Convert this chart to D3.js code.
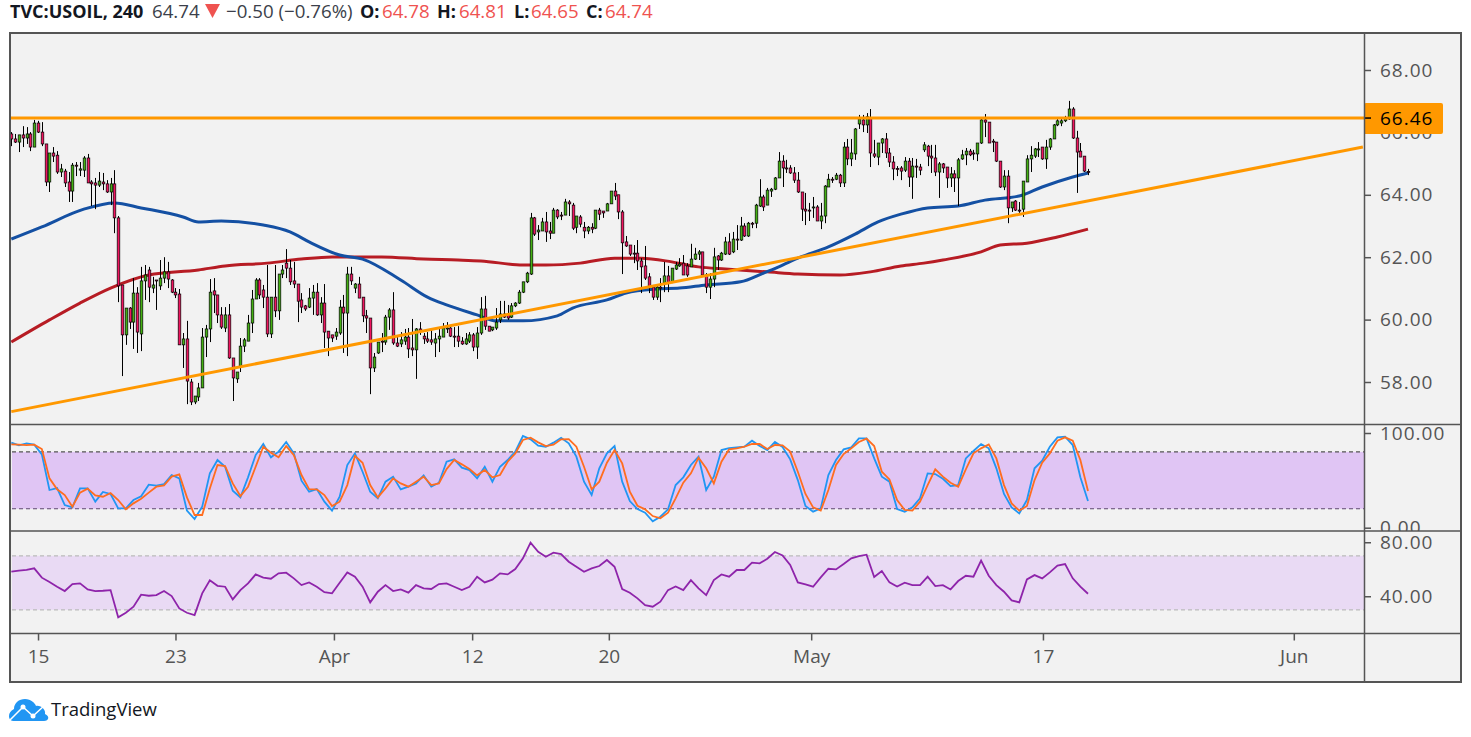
<!DOCTYPE html>
<meta charset="utf-8">
<style>
  html, body { margin: 0; background: #fff; }
  svg { display: block; }
  text { font-family: "Open Sans", sans-serif; }
  .tick text { fill: #555; font-size: 19px; }
  .tick line { stroke: #555; stroke-width: 1.5; }
  .price-axis .tick text { letter-spacing: 1px; }
  .domain { display: none; }
</style>
<script src="https://d3js.org/d3.v7.min.js"></script>
<div id="chart"></div>
<script>
// price candles, left to right
const opens = [
  65.95,65.79,65.69,65.92,65.82,65.95,65.53,66.30,66.01,65.63,
  64.41,65.34,65.27,64.73,64.76,64.41,64.12,64.95,64.79,64.79,
  65.18,64.41,64.38,64.31,64.41,64.35,64.09,64.35,63.26,61.11,
  59.51,60.37,59.92,60.85,59.54,61.24,61.59,61.01,61.27,61.08,
  61.33,61.53,61.27,60.88,60.82,59.19,59.38,58.00,57.36,57.52,
  57.81,59.44,59.70,60.92,60.79,60.15,59.73,60.15,58.77,58.10,
  58.51,59.15,59.31,59.89,60.66,61.27,60.95,60.72,59.54,60.72,
  60.28,61.46,61.81,61.65,61.24,61.14,60.63,60.44,60.40,60.69,
  60.88,60.15,60.53,59.63,59.51,59.47,59.57,60.40,60.21,61.46,
  61.01,61.14,60.72,60.12,60.05,58.45,58.93,59.31,59.28,60.08,
  60.31,59.25,59.22,59.31,59.44,59.09,59.03,59.70,59.47,59.38,
  59.35,59.25,59.38,59.44,59.70,59.73,59.47,59.47,59.31,59.22,
  59.31,59.51,59.12,59.57,60.34,59.79,59.67,59.73,59.99,60.18,
  60.18,60.08,60.44,60.53,60.88,61.21,61.46,63.26,62.81,62.84,
  63.13,62.84,62.77,63.51,63.35,63.35,63.77,63.67,62.96,63.29,
  62.96,62.84,62.96,62.93,63.51,63.48,63.48,63.71,64.12,64.00,
  63.45,62.49,62.39,62.13,62.13,61.88,61.72,61.37,61.04,60.72,
  61.04,61.17,61.40,61.21,61.62,61.72,61.81,61.72,61.69,61.94,
  62.10,62.17,61.43,61.04,61.30,62.04,61.91,62.10,62.49,62.17,
  62.58,62.55,63.00,62.68,63.09,63.09,63.64,63.93,63.67,64.12,
  64.18,64.54,65.08,64.86,64.86,64.70,64.47,64.09,63.54,63.51,
  63.58,63.61,63.16,63.32,64.25,64.50,64.50,64.63,64.38,65.53,
  65.15,65.31,66.27,66.40,66.24,66.46,65.31,65.21,65.66,65.79,
  65.34,65.05,64.84,64.86,64.79,65.08,64.57,64.92,64.89,65.44,
  65.56,65.24,65.18,64.73,64.99,64.89,64.54,64.67,64.54,65.15,
  65.28,65.40,65.34,65.31,65.66,66.40,66.33,65.72,65.69,65.08,
  64.25,64.60,63.58,63.80,63.51,63.54,64.41,65.15,65.24,65.44,
  65.53,65.15,65.53,65.79,66.24,66.30,66.37,66.43,66.75,65.82,
  65.40,65.24,64.75
];
const highs = [
  66.01,65.95,65.92,66.20,66.17,66.01,66.40,66.37,66.33,65.63,
  65.34,65.53,65.40,64.99,64.83,64.73,65.02,65.05,65.05,65.24,
  65.31,64.47,64.54,64.73,64.70,64.47,64.54,64.79,63.32,61.11,
  60.37,60.40,61.33,61.04,61.69,61.75,61.69,61.37,61.27,61.91,
  62.00,61.85,61.30,61.01,60.98,59.57,59.96,58.10,57.55,57.97,
  59.73,59.83,61.30,61.33,60.79,60.40,60.40,60.50,58.77,58.32,
  59.41,59.41,60.15,60.95,61.33,61.33,61.11,61.75,60.72,61.75,
  61.46,61.75,62.26,61.91,61.85,61.14,60.85,60.47,61.01,61.11,
  61.17,60.72,61.14,59.63,59.51,59.73,60.63,60.79,61.69,61.69,
  61.17,61.37,60.72,60.31,60.05,58.93,59.28,59.57,60.15,60.37,
  60.88,59.44,59.60,59.70,59.73,60.02,59.73,59.92,59.57,59.60,
  59.67,59.57,59.73,59.89,59.92,59.83,59.76,59.79,59.44,59.57,
  59.60,59.57,59.76,60.72,60.76,59.79,59.76,60.37,60.60,60.60,
  60.47,60.53,60.56,60.95,61.21,61.53,63.42,63.29,63.03,63.26,
  63.45,63.13,63.58,63.54,63.45,63.87,63.83,63.74,63.32,63.35,
  63.13,63.00,63.09,63.51,63.58,63.48,63.74,64.12,64.38,64.00,
  63.51,62.68,62.39,62.39,62.55,61.97,62.36,61.49,61.11,61.11,
  61.33,61.85,61.72,61.65,61.85,61.97,62.07,61.81,62.43,62.30,
  62.23,62.17,61.49,61.49,62.30,62.07,62.17,62.65,62.77,62.81,
  63.03,63.29,63.09,63.13,63.13,63.71,64.50,64.00,64.22,64.22,
  64.57,65.37,65.27,65.12,64.95,64.89,64.73,64.09,64.06,63.74,
  63.93,63.67,63.74,64.31,64.67,64.57,64.70,64.67,65.69,65.79,
  65.79,66.14,66.56,66.56,66.62,66.75,65.76,65.66,65.82,65.98,
  65.50,65.24,64.92,64.92,65.21,65.18,65.18,65.15,64.99,65.69,
  65.60,65.60,65.60,65.05,65.02,64.89,64.89,64.79,65.18,65.44,
  65.50,65.47,65.44,65.66,66.43,66.59,66.33,65.79,65.69,65.08,
  64.79,64.79,63.77,63.83,63.77,64.44,65.27,65.56,65.50,65.69,
  65.53,65.76,65.82,66.27,66.43,66.49,66.53,67.01,66.81,66.05,
  65.66,65.24,64.83
];
const lows = [
  65.56,65.66,65.37,65.53,65.63,65.40,65.53,65.98,65.56,64.28,
  64.09,65.05,64.67,64.57,64.25,63.77,63.77,64.60,64.60,64.57,
  64.38,63.64,63.54,64.25,64.15,64.06,63.67,62.77,60.56,58.19,
  59.19,59.70,59.06,58.93,58.99,60.63,60.56,60.85,60.31,60.95,
  61.17,61.01,60.85,60.69,59.19,58.45,57.29,57.26,57.29,57.39,
  57.81,58.80,59.28,60.21,59.89,59.70,59.60,58.74,57.39,57.97,
  58.32,58.96,59.31,59.57,60.66,60.66,60.37,59.44,59.41,60.08,
  59.99,61.33,61.33,61.11,61.01,59.92,60.21,60.28,60.37,60.15,
  60.12,59.89,59.09,58.83,59.28,59.35,59.51,58.93,58.83,61.11,
  60.85,60.69,59.92,59.57,57.61,58.32,58.90,58.96,59.19,59.67,
  59.19,59.12,59.12,59.19,58.77,58.83,58.10,59.51,59.22,59.25,
  59.19,58.80,58.96,59.44,59.57,59.44,59.12,59.12,59.19,59.19,
  59.25,58.99,58.74,59.51,59.67,59.63,59.63,59.67,59.89,60.05,
  59.99,60.05,60.40,60.50,60.85,61.17,61.43,62.68,62.55,62.84,
  62.49,62.58,62.77,63.22,63.19,63.35,63.32,62.87,62.77,62.96,
  62.61,62.74,62.77,62.90,63.19,63.26,63.48,63.71,63.83,63.22,
  61.46,62.33,62.04,61.81,61.59,60.85,61.27,60.85,60.63,60.63,
  60.56,60.88,60.88,61.17,61.59,61.69,61.43,61.37,61.69,61.91,
  61.91,61.40,60.85,60.66,61.04,61.59,61.88,62.07,62.07,62.13,
  62.23,62.52,62.65,62.65,62.93,62.93,63.61,63.48,63.67,63.93,
  64.15,64.54,64.25,64.70,64.67,64.38,64.06,63.16,63.03,63.16,
  63.26,63.16,62.90,63.09,64.25,64.38,64.47,64.25,64.25,64.95,
  64.92,65.12,66.11,66.01,65.98,64.89,65.18,64.95,65.34,65.18,
  64.89,64.47,64.60,64.47,64.73,64.25,63.87,64.54,64.63,65.37,
  64.92,64.70,64.60,63.90,64.70,64.22,64.25,64.09,63.64,65.12,
  64.95,65.24,65.12,65.08,65.63,65.85,65.66,65.37,65.05,64.22,
  64.15,63.09,63.45,63.48,63.42,63.29,64.41,64.73,65.18,65.21,
  65.12,64.83,65.44,65.79,66.20,66.20,66.33,66.40,65.79,64.06,
  65.21,64.73,64.63
];
const closes = [
  65.79,65.69,65.92,65.82,65.95,65.53,66.30,66.01,65.63,64.41,
  65.34,65.24,64.73,64.83,64.38,64.12,64.95,64.92,64.83,65.18,
  64.38,64.35,64.31,64.44,64.35,64.09,64.35,63.26,61.08,59.51,
  60.37,59.92,60.85,59.60,61.24,61.43,61.04,61.11,61.24,61.33,
  61.53,61.30,60.88,60.79,59.19,59.38,58.03,57.36,57.55,57.81,
  59.44,59.70,60.88,60.79,60.15,59.76,60.15,58.77,58.13,58.32,
  59.15,59.35,59.89,60.66,61.27,60.79,60.72,59.54,60.72,60.28,
  61.46,61.59,61.65,61.21,61.14,60.59,60.40,60.34,60.69,60.88,
  60.15,60.53,59.60,59.41,59.41,59.60,60.40,60.21,61.46,61.24,
  61.14,60.69,60.12,60.05,58.45,58.80,59.28,59.28,60.08,60.31,
  59.25,59.15,59.35,59.44,59.06,59.03,59.70,59.63,59.38,59.31,
  59.28,59.38,59.47,59.73,59.73,59.47,59.44,59.31,59.22,59.38,
  59.51,59.12,59.57,60.34,59.79,59.63,59.76,59.92,60.18,60.08,
  60.05,60.44,60.53,60.88,61.21,61.49,63.26,62.74,62.87,63.13,
  62.81,62.77,63.51,63.29,63.32,63.77,63.71,62.93,63.32,63.06,
  62.84,62.96,62.90,63.51,63.38,63.42,63.71,64.12,63.96,63.45,
  62.46,62.36,62.10,62.10,61.88,61.69,61.33,61.04,60.72,61.04,
  61.01,61.40,61.17,61.65,61.75,61.78,61.43,61.43,61.94,62.10,
  62.17,61.43,61.04,61.30,62.01,61.91,62.13,62.49,62.10,62.58,
  62.55,63.00,62.68,63.09,63.06,63.67,63.93,63.61,64.15,64.18,
  64.54,65.08,64.86,64.83,64.70,64.47,64.09,63.54,63.48,63.48,
  63.61,63.16,63.32,64.28,64.50,64.47,64.63,64.38,65.53,65.15,
  65.34,66.11,66.43,66.24,66.50,65.34,65.24,65.66,65.79,65.34,
  65.05,64.83,64.82,64.76,65.08,64.57,64.92,64.89,64.79,65.60,
  65.24,65.18,64.73,64.99,64.86,64.54,64.67,64.54,65.12,65.28,
  65.40,65.28,65.31,65.66,66.40,66.33,65.66,65.69,65.08,64.25,
  64.60,63.58,63.77,63.51,63.48,64.44,65.15,65.27,65.47,65.47,
  65.15,65.53,65.79,66.24,66.37,66.37,66.46,66.75,65.82,65.37,
  65.21,64.76,64.74
];

// moving averages: bar number and price
const blueBars = [0,8,19,27,34,45,49,55,66,73,78,86,92,102,109,114,122,127,134,143,147,156,161,169,175,182,191,197,201,206,214,221,227,233,240,248,255,264,270,278,282];
const blueMa = [62.58,62.97,63.54,63.74,63.58,63.29,63.13,63.16,63.03,62.81,62.49,62.07,61.94,61.27,60.72,60.47,60.15,59.96,59.96,60.12,60.37,60.63,60.85,60.98,61.01,61.11,61.21,61.49,61.69,61.97,62.33,62.74,63.13,63.38,63.58,63.64,63.83,63.96,64.25,64.57,64.70];
const redBars = [0,10,18,26,36,49,56,67,76,84,97,108,117,123,134,140,149,158,165,173,180,187,198,206,217,225,233,239,244,254,259,266,274,282];
const redMa = [59.28,59.99,60.53,61.01,61.43,61.59,61.72,61.81,61.94,62.01,62.01,61.94,61.91,61.88,61.75,61.75,61.81,61.97,61.97,61.85,61.69,61.62,61.53,61.46,61.43,61.53,61.72,61.81,61.91,62.17,62.39,62.45,62.65,62.90];

// the two drawn orange lines
const levelPrice = 66.46;
const trendBars = [0, 354];
const trendPrices = [57.05, 65.53];

// stochastic and rsi, one reading every second bar
const stochK = [89.8,86.9,89.1,87.7,77.4,39.8,41.9,23.9,21.5,41.5,41.5,27.5,37.7,35.6,20.4,20.4,29.2,33.1,45.4,44.4,46.1,55.6,52.1,18.0,9.2,22.2,57.4,71.5,64.4,39.1,32.0,53.2,76.7,88.4,74.3,80.3,90.5,78.5,49.6,38.0,40.8,27.5,18,32.7,66.2,78.5,59.1,38,31,48.6,53.9,40.5,43.3,46.8,55.3,43.3,47.5,69.7,72.2,63.4,60.9,52.1,64.4,48.6,64.4,71.5,80.3,96.8,93.3,86.6,85.5,89.8,95.0,89.1,75,48.6,34.5,62.7,78.5,86.2,48.6,28.2,19.7,15.8,6.7,11.6,19.4,45,53.2,66.2,75,39.8,53.9,82,84.1,84.8,85.5,91.9,86.2,82,90.5,85.2,72.2,50.3,22.9,16.9,20.4,55.6,71.5,82.7,84.8,94.3,94.3,73.2,53.9,48.6,19.7,16.9,21.5,31,57.4,56.7,51.7,44,45,73.2,81,88.4,83.8,62.7,35.6,21.5,15.1,29.2,62.7,70.8,85.5,95.4,96.1,87.3,53.2,28.2];
const stochD = [88,87.7,87.3,87.7,83.1,52.1,40.5,34.5,22.2,37,41.2,34.2,32.7,36.6,29.2,19.4,25.7,30.6,37,43.3,44.7,53.9,56.3,32,13.4,13.4,41.5,66.2,65.1,46.8,33.4,43.3,64.4,85.5,79.2,74.3,86.2,76.7,55.6,40.8,40.5,34.5,22.9,27.5,45,75.7,68.6,45,32,41.5,52.1,46.8,43.3,48.6,53.9,45,46.8,61.9,71.5,66.9,61.9,55.3,60.9,53.2,55.6,69.7,78.5,92.6,95,90.1,86.2,87.7,93.3,93.6,85.5,64.4,40.5,48.6,68.6,82,67.9,38,23.2,19.4,12.3,9.9,15.8,31,47.5,57.4,73.9,62.7,46.8,69.7,82.7,83.8,85.5,88.4,88.4,83.1,87.3,86.9,80.3,59.1,35.6,21.5,18,39.8,66.2,77.8,83.8,90.5,94,86.2,59.1,51,29.2,18.7,18,27.5,45,61.6,53.9,47.5,43.3,61.6,78.5,83.8,88,73.2,45,25.7,18,22.9,50.3,68.6,78.5,91.9,95.4,91.9,71.5,38.7];
const rsiValues = [58.2,59,59.5,60.7,53.8,50.6,47.1,43.9,49.1,49.6,45.1,43.9,44.1,44.6,24.4,27.8,32.3,41.2,40.4,40.9,43.9,40.2,31.0,27.8,26.1,42.2,51.8,47.8,47.1,37.7,44.6,49.6,56.2,53.8,53,57,57.5,53.3,48.3,50.3,47.1,43.1,42.2,50.1,57.7,54.5,47.1,35.5,43.4,48.3,43.9,45.1,42.7,48.3,45.9,45.4,49.1,49.6,47.1,44.6,47.1,54.5,50.3,52.3,57,56.2,60.2,68.1,79.7,73,69.3,72.3,71.3,65.6,61.9,58.2,60.7,62.4,66.9,61.9,45.4,42.7,38.5,33.5,32.3,36,44.6,47.3,44.6,52,45.9,40.9,52,56.2,54.5,59.5,59.5,64.9,64.4,67.8,72.8,70.3,63.2,50.3,48.8,47.1,54,60.4,59.9,63.9,68.1,69.8,70.8,54.3,58.7,50.3,47.3,50.1,48.3,48.3,54.5,47.6,48.3,45.1,51.3,55.2,54.5,66.4,55.2,48.3,43.4,37,35.5,52.5,55.7,53.3,57.7,62.7,63.9,53.3,47.1,41.9];

// axes
const priceTicks = [58, 60, 62, 64, 66, 68];
const stochTicks = [0, 100];
const rsiTicks = [40, 80];
const timeBars = [7, 43, 84.5, 120.7, 156.5, 209.5, 270.2, 335.9];
const timeLabels = ["15", "23", "Apr", "12", "20", "May", "17", "Jun"];

const width = 1471, height = 737;
const left = 11, right = 1364, frameRight = 1461, frameBottom = 682;
const paneTop = 33, pane1 = 424.5, pane2 = 531, pane3 = 633.5;

const x = d3.scaleLinear().domain([0, closes.length - 1]).range([11.3, 1088]);
const yPrice = d3.scaleLinear().domain([58, 68]).range([382, 70]);
const yStoch = d3.scaleLinear().domain([0, 100]).range([527.7, 433]);
const yRsi = d3.scaleLinear().domain([40, 80]).range([596.3, 542.3]);

const svg = d3.select("#chart").append("svg")
  .attr("width", width)
  .attr("height", height);

const defs = svg.append("defs");
defs.append("clipPath").attr("id", "clip-price").append("rect")
  .attr("x", left).attr("y", paneTop).attr("width", right - left).attr("height", pane1 - paneTop);
defs.append("clipPath").attr("id", "clip-stoch-axis").append("rect")
  .attr("x", right).attr("y", pane1).attr("width", frameRight - right).attr("height", pane2 - pane1);
defs.append("clipPath").attr("id", "clip-rsi-axis").append("rect")
  .attr("x", right).attr("y", pane2).attr("width", frameRight - right).attr("height", pane3 - pane2);

// header line
const headerY = 18;
const header = svg.append("g").attr("font-size", 18.7).attr("fill", "#131722");
header.append("text").attr("x", 10).attr("y", headerY).attr("font-size", 18).attr("font-weight", 700).text("TVC:USOIL, 240");
header.append("text").attr("x", 152).attr("y", headerY).attr("fill", "#3b3f4a").text("64.74");
header.append("path").attr("d", "M205,4H220L212.5,18Z").attr("fill", "#ef5350");
header.append("text").attr("x", 226).attr("y", headerY).attr("fill", "#3b3f4a").text("\u22120.50 (\u22120.76%)");
const ohlcLabels = [["O:", "64.78", 360, 382], ["H:", "64.81", 437, 459], ["L:", "64.65", 514, 531], ["C:", "64.74", 586, 605]];
ohlcLabels.forEach(d => {
  header.append("text").attr("x", d[2]).attr("y", headerY).attr("font-size", 18).attr("font-weight", 700).text(d[0]);
  header.append("text").attr("x", d[3]).attr("y", headerY).attr("fill", "#ef5350").text(d[1]);
});

// frame background
svg.append("rect")
  .attr("x", 10).attr("y", 33)
  .attr("width", frameRight - 10).attr("height", frameBottom - 33)
  .attr("fill", "#f2f2f2");

// indicator bands
svg.append("rect")
  .attr("x", 12).attr("y", yStoch(80))
  .attr("width", right - 12).attr("height", yStoch(20) - yStoch(80))
  .attr("fill", "#e0c5f4");
svg.append("rect")
  .attr("x", 12).attr("y", yRsi(70))
  .attr("width", right - 12).attr("height", yRsi(30) - yRsi(70))
  .attr("fill", "#e9daf4");
[[yStoch(80), "#555"], [yStoch(20), "#5d4a70"], [yRsi(70), "#bbb"], [yRsi(30), "#bbb"]].forEach(d => {
  svg.append("line")
    .attr("x1", 12).attr("x2", right)
    .attr("y1", d[0]).attr("y2", d[0])
    .attr("stroke", d[1]).attr("stroke-width", 1.2)
    .attr("stroke-dasharray", "4 3");
});

// moving averages go under the candles
const maLine = d3.line().x(d => x(d[0])).y(d => yPrice(d[1])).curve(d3.curveMonotoneX);
const price = svg.append("g").attr("clip-path", "url(#clip-price)");
price.append("path")
  .attr("d", maLine(redBars.map((b, i) => [b, redMa[i]])))
  .attr("fill", "none").attr("stroke", "#b71c24").attr("stroke-width", 3);
price.append("path")
  .attr("d", maLine(blueBars.map((b, i) => [b, blueMa[i]])))
  .attr("fill", "none").attr("stroke", "#1450a3").attr("stroke-width", 3);

// candles
const candles = closes.map((c, i) => ({ i: i, o: opens[i], h: highs[i], l: lows[i], c: c }));
const candle = price.selectAll("g.candle").data(candles).join("g").attr("class", "candle");
candle.append("line")
  .attr("x1", d => Math.round(x(d.i)) + 0.5).attr("x2", d => Math.round(x(d.i)) + 0.5)
  .attr("y1", d => yPrice(d.h)).attr("y2", d => yPrice(d.l))
  .attr("stroke", "#000").attr("stroke-width", 1);
candle.append("rect")
  .attr("x", d => Math.round(x(d.i)) - 0.8)
  .attr("width", 2.6)
  .attr("y", d => yPrice(Math.max(d.o, d.c)))
  .attr("height", d => Math.max(1, Math.abs(yPrice(d.o) - yPrice(d.c))))
  .attr("fill", d => d.c >= d.o ? "#43b012" : "#f0145f")
  .attr("stroke", "#000").attr("stroke-width", 0.7);

// orange drawings on top
price.append("line")
  .attr("x1", left).attr("x2", right)
  .attr("y1", yPrice(levelPrice)).attr("y2", yPrice(levelPrice))
  .attr("stroke", "#ff9800").attr("stroke-width", 3);
price.append("line")
  .attr("x1", x(trendBars[0])).attr("x2", x(trendBars[1]))
  .attr("y1", yPrice(trendPrices[0])).attr("y2", yPrice(trendPrices[1]))
  .attr("stroke", "#ff9800").attr("stroke-width", 3);

// stochastic and rsi lines
const stepLine = scale => d3.line().x((d, i) => x(i * 2)).y(d => scale(d));
svg.append("path").attr("d", stepLine(yStoch)(stochK))
  .attr("fill", "none").attr("stroke", "#2196f3").attr("stroke-width", 1.8);
svg.append("path").attr("d", stepLine(yStoch)(stochD))
  .attr("fill", "none").attr("stroke", "#ff6d1f").attr("stroke-width", 1.8);
svg.append("path").attr("d", stepLine(yRsi)(rsiValues))
  .attr("fill", "none").attr("stroke", "#8e24aa").attr("stroke-width", 1.8);

// axes
svg.append("g").attr("class", "price-axis")
  .attr("transform", `translate(${right},0)`)
  .call(d3.axisRight(yPrice).tickValues(priceTicks).tickSize(7).tickPadding(9).tickFormat(d3.format(".2f")));
svg.append("g").attr("clip-path", "url(#clip-stoch-axis)").append("g").attr("class", "price-axis")
  .attr("transform", `translate(${right},0)`)
  .call(d3.axisRight(yStoch).tickValues(stochTicks).tickSize(7).tickPadding(9).tickFormat(d3.format(".2f")));
svg.append("g").attr("clip-path", "url(#clip-rsi-axis)").append("g").attr("class", "price-axis")
  .attr("transform", `translate(${right},0)`)
  .call(d3.axisRight(yRsi).tickValues(rsiTicks).tickSize(7).tickPadding(9).tickFormat(d3.format(".2f")));
svg.append("g")
  .attr("transform", `translate(0,${pane3})`)
  .call(d3.axisBottom(x).tickValues(timeBars).tickSize(7).tickPadding(9).tickFormat((d, i) => timeLabels[i]));

// last-level tag
svg.append("rect")
  .attr("x", right).attr("y", 103)
  .attr("width", 79).attr("height", 31).attr("rx", 2)
  .attr("fill", "#ff9800");
svg.append("line")
  .attr("x1", right).attr("x2", right + 7)
  .attr("y1", yPrice(levelPrice)).attr("y2", yPrice(levelPrice))
  .attr("stroke", "#000").attr("stroke-width", 1.5);
svg.append("text")
  .attr("x", right + 16).attr("y", yPrice(levelPrice)).attr("dy", "0.35em")
  .attr("font-size", 19).attr("letter-spacing", 1).attr("fill", "#000")
  .text(d3.format(".2f")(levelPrice));

// pane rules and frame
[pane1, pane2, pane3].forEach(y => {
  svg.append("line")
    .attr("x1", 10).attr("x2", frameRight).attr("y1", y).attr("y2", y)
    .attr("stroke", "#555").attr("stroke-width", 1.5);
});
svg.append("line")
  .attr("x1", right + 0.5).attr("x2", right + 0.5).attr("y1", 33).attr("y2", frameBottom)
  .attr("stroke", "#555").attr("stroke-width", 1.5);
svg.append("rect")
  .attr("x", 10).attr("y", 33)
  .attr("width", frameRight - 10).attr("height", frameBottom - 33)
  .attr("fill", "none").attr("stroke", "#555").attr("stroke-width", 2);

// logo
const logo = svg.append("g");
logo.append("path")
  .attr("d", "M13,721C8,721 7,712 14,709C14,703 19,699 25,699C31,699 35,703 36,706C41,705 46,710 45,714C50,716 49,721 44,721Z")
  .attr("fill", "#2196f3");
logo.append("path")
  .attr("d", "M10,720L23,707L33,716L45,705")
  .attr("fill", "none").attr("stroke", "#fff").attr("stroke-width", 1.5);
logo.append("circle").attr("cx", 23).attr("cy", 707).attr("r", 2.5).attr("fill", "#fff");
logo.append("circle").attr("cx", 33).attr("cy", 716).attr("r", 2.5).attr("fill", "#fff");
svg.append("text")
  .attr("x", 51).attr("y", 716)
  .attr("font-size", 18.5).attr("fill", "#131722")
  .text("TradingView");
</script>
